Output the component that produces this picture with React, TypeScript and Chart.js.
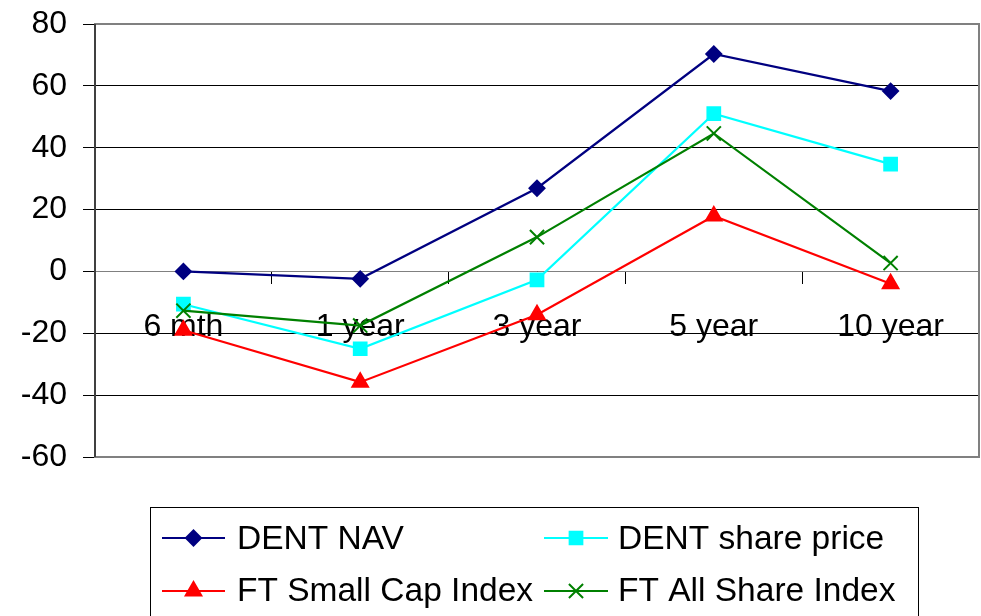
import React, { useEffect, useRef } from 'react';
import { Chart, registerables } from 'chart.js';
import { drawPoint } from 'chart.js/helpers';

Chart.register(...registerables);

const categories = ['6 mth', '1 year', '3 year', '5 year', '10 year'];
const dentNav = [0, -2.4, 26.9, 70.3, 58.3];
const dentSharePrice = [-10.6, -25.0, -2.7, 51.0, 34.7];
const ftSmallCap = [-19.0, -35.8, -14.0, 17.9, -4.0];
const ftAllShare = [-12.7, -17.5, 11.1, 44.6, 2.7];
const seriesNames = ['DENT NAV', 'DENT share price', 'FT Small Cap Index', 'FT All Share Index'];
const yMin = -60;
const yMax = 80;
const yStep = 20;

const FONT = '"Liberation Sans", Arial, sans-serif';

const styles = [
  { color: '#000080', pointStyle: 'rectRot', radius: 7.5 },
  { color: '#00FFFF', pointStyle: 'rect', radius: 9 },
  { color: '#FF0000', pointStyle: 'triangle', radius: 9 },
  { color: '#008000', pointStyle: 'crossRot', radius: 10 },
];

const plotBorder = {
  id: 'plotBorder',
  beforeDatasetsDraw(chart: any) {
    const { ctx, chartArea } = chart;
    ctx.save();
    ctx.strokeStyle = '#808080';
    ctx.lineWidth = 2;
    ctx.strokeRect(chartArea.left, chartArea.top, chartArea.right - chartArea.left, chartArea.bottom - chartArea.top);
    ctx.strokeStyle = '#404040';
    ctx.beginPath();
    ctx.moveTo(chartArea.left, chartArea.top);
    ctx.lineTo(chartArea.left, chartArea.bottom);
    ctx.stroke();
    ctx.restore();
  },
};

const customLegend = {
  id: 'customLegend',
  afterDraw(chart: any) {
    const { ctx } = chart;
    ctx.save();
    ctx.strokeStyle = '#000';
    ctx.lineWidth = 1;
    ctx.strokeRect(150.5, 507.5, 768, 140);
    const cols = [{ x1: 162, x2: 225, tx: 237 }, { x1: 544, x2: 608, tx: 618 }];
    const rows = [{ ly: 538, base: 549 }, { ly: 591, base: 601 }];
    chart.data.datasets.forEach((ds: any, i: number) => {
      const c = cols[i % 2];
      const r = rows[Math.floor(i / 2)];
      const st = styles[i];
      ctx.strokeStyle = st.color;
      ctx.fillStyle = st.color;
      ctx.lineWidth = 2;
      ctx.beginPath();
      ctx.moveTo(c.x1, r.ly);
      ctx.lineTo(c.x2, r.ly);
      ctx.stroke();
      drawPoint(ctx, { pointStyle: st.pointStyle, rotation: 0, radius: st.radius, borderWidth: 2 } as any, (c.x1 + c.x2) / 2, r.ly);
      ctx.fillStyle = '#000';
      ctx.font = `33.5px ${FONT}`;
      ctx.textAlign = 'left';
      ctx.textBaseline = 'alphabetic';
      ctx.fillText(ds.label, c.tx, r.base);
    });
    ctx.restore();
  },
};

export default function App() {
  const ref = useRef<HTMLCanvasElement>(null);
  useEffect(() => {
    if (!ref.current) return;
    const values = [dentNav, dentSharePrice, ftSmallCap, ftAllShare];
    const chart = new Chart(ref.current, {
      type: 'line',
      data: {
        labels: categories,
        datasets: values.map((v, i) => ({
          label: seriesNames[i],
          data: v,
          borderColor: styles[i].color,
          backgroundColor: styles[i].color,
          pointBackgroundColor: styles[i].color,
          pointBorderColor: styles[i].color,
          pointStyle: styles[i].pointStyle as any,
          pointRadius: styles[i].radius,
          pointBorderWidth: 2,
          borderWidth: 2.2,
          tension: 0,
          clip: false as any,
          order: 4 - i,
        })),
      },
      options: {
        animation: false,
        responsive: false,
        devicePixelRatio: 1,
        layout: { autoPadding: false, padding: { top: 24, right: 2, bottom: 159, left: 0 } },
        plugins: {
          legend: { display: false },
          tooltip: { enabled: false },
        },
        scales: {
          y: {
            min: yMin,
            max: yMax,
            afterFit(scale: any) {
              scale.width = 95;
              scale.paddingTop = 0;
              scale.paddingBottom = 0;
              scale.paddingLeft = 0;
              scale.paddingRight = 0;
            },
            ticks: {
              stepSize: yStep,
              color: '#000',
              padding: 16,
              font: { size: 32, family: FONT, lineHeight: 1.2 },
            },
            grid: { color: '#000', lineWidth: 1, tickLength: 12, drawTicks: true },
            border: { display: false },
          },
          x: {
            position: { y: 0 } as any,
            offset: true,
            afterFit(scale: any) {
              scale.paddingTop = 0;
              scale.paddingBottom = 0;
              scale.paddingLeft = 0;
              scale.paddingRight = 0;
            },
            ticks: {
              color: '#000',
              padding: 25,
              maxRotation: 0,
              autoSkip: false,
              font: { size: 32, family: FONT, lineHeight: 1.2 },
            },
            grid: { offset: true, drawOnChartArea: false, drawTicks: true, tickLength: 12, color: '#000' },
            border: { display: true, color: '#808080', width: 1 },
          },
        },
      },
      plugins: [plotBorder, customLegend],
    });
    return () => chart.destroy();
  }, []);
  return (
    <div style={{ position: 'absolute', left: 0, top: 0, width: 981, height: 616, background: '#fff' }}>
      <canvas ref={ref} width={981} height={616} />
    </div>
  );
}
